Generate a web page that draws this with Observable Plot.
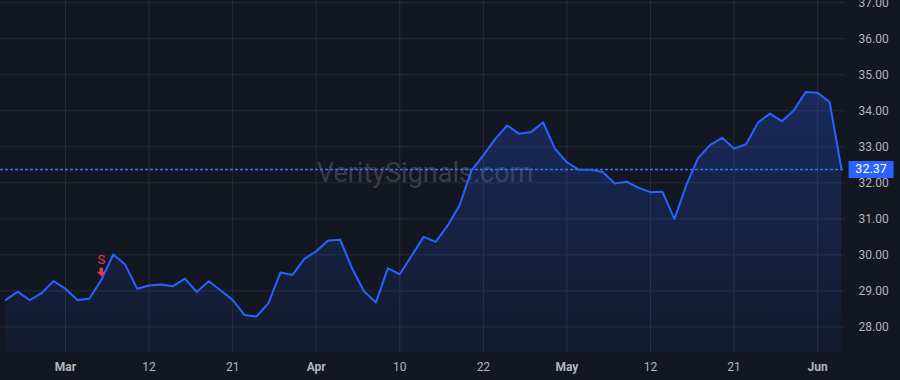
<!DOCTYPE html>
<html><head><meta charset="utf-8">
<script src="https://cdn.jsdelivr.net/npm/d3@7"></script>
<script src="https://cdn.jsdelivr.net/npm/@observablehq/plot@0.6"></script>
<style>
html,body{margin:0;padding:0;background:#131722;overflow:hidden;}
#chart{width:900px;height:380px;}
</style></head><body><div id="chart"></div>
<script>
// Trading days (Feb 24 – Jun 4, 2025)
const dates = [
  "2025-02-24","2025-02-25","2025-02-26","2025-02-27","2025-02-28",
  "2025-03-03","2025-03-04","2025-03-05","2025-03-06","2025-03-07",
  "2025-03-10","2025-03-11","2025-03-12","2025-03-13","2025-03-14",
  "2025-03-17","2025-03-18","2025-03-19","2025-03-20","2025-03-21",
  "2025-03-24","2025-03-25","2025-03-26","2025-03-27","2025-03-28",
  "2025-03-31","2025-04-01","2025-04-02","2025-04-03","2025-04-04",
  "2025-04-07","2025-04-08","2025-04-09","2025-04-10","2025-04-11",
  "2025-04-14","2025-04-15","2025-04-16","2025-04-17",
  "2025-04-21","2025-04-22","2025-04-23","2025-04-24","2025-04-25",
  "2025-04-28","2025-04-29","2025-04-30","2025-05-01","2025-05-02",
  "2025-05-05","2025-05-06","2025-05-07","2025-05-08","2025-05-09",
  "2025-05-12","2025-05-13","2025-05-14","2025-05-15","2025-05-16",
  "2025-05-19","2025-05-20","2025-05-21","2025-05-22","2025-05-23",
  "2025-05-27","2025-05-28","2025-05-29","2025-05-30",
  "2025-06-02","2025-06-03","2025-06-04"
];
const closes = [
  28.75, 28.98, 28.74, 28.94, 29.27,
  29.06, 28.75, 28.78, 29.31, 30.01,
  29.73, 29.06, 29.15, 29.18, 29.13,
  29.34, 28.97, 29.27, 29.01, 28.75,
  28.33, 28.29, 28.66, 29.51, 29.44,
  29.89, 30.10, 30.40, 30.42, 29.63,
  28.99, 28.68, 29.63, 29.46, 29.98,
  30.50, 30.36, 30.81, 31.37,
  32.34, 32.76, 33.22, 33.59, 33.36,
  33.41, 33.68, 32.94, 32.57, 32.36,
  32.36, 32.30, 31.98, 32.03, 31.86,
  31.74, 31.75, 30.99, 31.94, 32.69,
  33.05, 33.25, 32.95, 33.07, 33.67,
  33.92, 33.71, 34.01, 34.52,
  34.50, 34.24, 32.37
];
const tickDates = ["2025-03-03","2025-03-12","2025-03-21","2025-04-01","2025-04-10","2025-04-22","2025-05-01","2025-05-12","2025-05-21","2025-06-02"];
const tickLabels = ["Mar","12","21","Apr","10","22","May","12","21","Jun"];
const monthLabels = ["Mar","Apr","May","Jun"];
const yTicks = [28, 29, 30, 31, 32, 33, 34, 35, 36, 37];
const lastPrice = 32.37;
const signalDates = ["2025-03-06"];
const signalLabels = ["S"];
const watermark = "VeritySignals.com";

const data = dates.map((d, i) => ({i, date: d, close: closes[i]}));
const tickIdx = tickDates.map(d => dates.indexOf(d));
const labelOf = new Map(tickIdx.map((t, k) => [t, tickLabels[k]]));
const monthIdx = tickIdx.filter(t => monthLabels.includes(labelOf.get(t)));
const dayIdx = tickIdx.filter(t => !monthLabels.includes(labelOf.get(t)));
const signals = signalDates.map((d, k) => ({i: dates.indexOf(d), close: closes[dates.indexOf(d)], label: signalLabels[k]}));
const last = [{i: data.length - 1, close: lastPrice, label: lastPrice.toFixed(2)}];

const BLUE = "#2962ff", RED = "#f23645", GRID = "#262b37";
const arrowSymbol = {draw(ctx) {
  ctx.moveTo(-1.7, -4.5); ctx.lineTo(1.7, -4.5); ctx.lineTo(1.7, -0.5);
  ctx.lineTo(4.3, -0.5); ctx.lineTo(0, 4); ctx.lineTo(-4.3, -0.5);
  ctx.lineTo(-1.7, -0.5); ctx.closePath();
}};
const boxSymbol = {draw(ctx) { ctx.rect(-22.5, -8.5, 45, 17); }};

const chart = Plot.plot({
  width: 900, height: 380,
  marginLeft: 0, marginRight: 55, marginTop: 0, marginBottom: 28,
  style: {background: "#131722", color: "#b2b5be", fontFamily: "Roboto, 'Liberation Sans', sans-serif", fontSize: "12px"},
  x: {type: "linear", domain: [-0.444, 70.33], axis: null},
  y: {domain: [27.29, 37.06], axis: null},
  marks: [
    Plot.gridX(tickIdx, {stroke: GRID, strokeOpacity: 1}),
    Plot.gridY(yTicks, {stroke: GRID, strokeOpacity: 1}),
    Plot.text([watermark], {frameAnchor: "middle", dx: 2, dy: -3, fontSize: 27, fill: "#6a6d78", fillOpacity: 0.45}),
    Plot.areaY(data, {x: "i", y1: 27.29, y2: "close", fill: "url(#areaGrad)"}),
    Plot.ruleY([lastPrice], {stroke: "#3a74ff", strokeOpacity: 1, strokeDasharray: "3,2", strokeWidth: 1.5}),
    Plot.line(data, {x: "i", y: "close", stroke: BLUE, strokeWidth: 2, strokeLinejoin: "round"}),
    Plot.dot(signals, {x: "i", y: "close", dy: -7.5, symbol: arrowSymbol, fill: RED, stroke: null}),
    Plot.text(signals, {x: "i", y: "close", text: "label", dy: -20, fill: RED, fontSize: 13}),
    Plot.axisX(monthIdx, {tickSize: 0, tickPadding: 10, tickFormat: t => labelOf.get(t), fontWeight: "bold", label: null, fill: "#b2b5be"}),
    Plot.axisX(dayIdx, {tickSize: 0, tickPadding: 10, tickFormat: t => labelOf.get(t), label: null, fill: "#b2b5be"}),
    Plot.axisY(yTicks, {anchor: "right", tickSize: 0, tickPadding: 13, tickFormat: d => d.toFixed(2), label: null, fill: "#b2b5be"}),
    Plot.dot(last, {x: "i", y: "close", dx: 29.5, symbol: boxSymbol, fill: BLUE, stroke: null}),
    Plot.text(last, {x: "i", y: "close", dx: 29.5, text: "label", fill: "#ffffff", fontSize: 12.5})
  ]
});

const svg = d3.select(chart);
const defs = svg.insert("defs", ":first-child");
const g = defs.append("linearGradient").attr("id", "areaGrad").attr("x1", 0).attr("y1", 0).attr("x2", 0).attr("y2", 1);
g.append("stop").attr("offset", "0%").attr("stop-color", BLUE).attr("stop-opacity", 0.26);
g.append("stop").attr("offset", "100%").attr("stop-color", BLUE).attr("stop-opacity", 0.05);

document.getElementById("chart").appendChild(chart);
</script>
</body></html>
